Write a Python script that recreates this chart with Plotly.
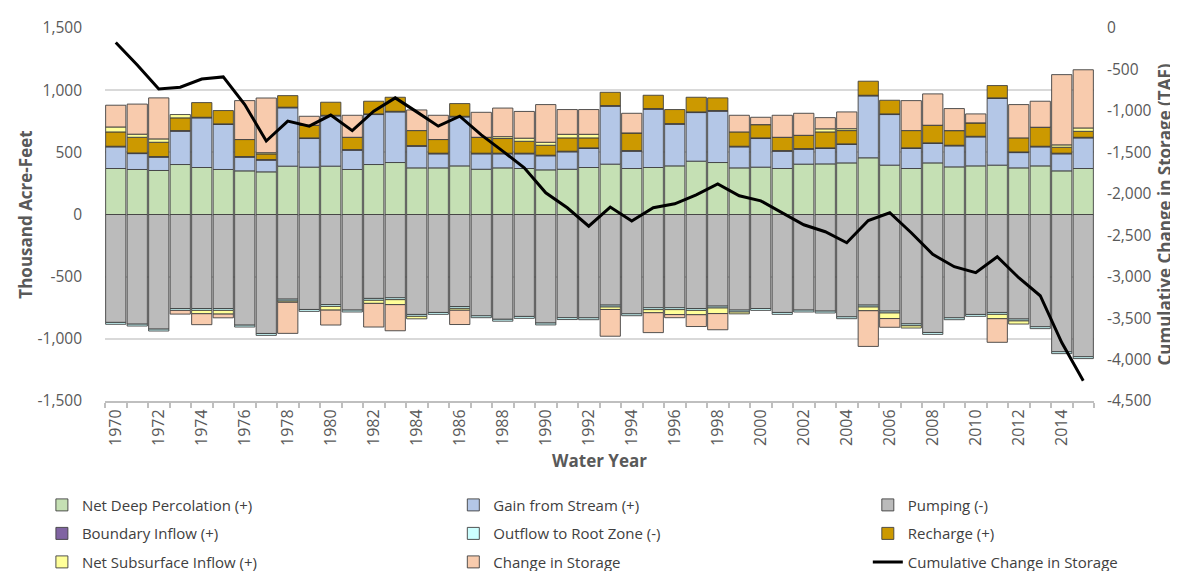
import plotly.graph_objects as go

years = list(range(1970, 2016))

net_deep_percolation = [370, 362, 354, 402, 378, 362, 351, 343, 389, 381, 389, 362, 402, 418, 375, 375,
                        391, 364, 375, 370, 359, 364, 378, 405, 370, 378, 391, 429, 418, 375, 381, 370,
                        405, 407, 415, 456, 397, 370, 415, 383, 391, 397, 375, 391, 351, 370]
gain_from_stream = [174, 128, 107, 268, 399, 362, 110, 94, 469, 230, 404, 155, 402, 407, 174, 113,
                    394, 124, 113, 118, 113, 140, 153, 466, 139, 469, 335, 391, 413, 169, 230, 139,
                    120, 124, 148, 498, 407, 161, 156, 169, 233, 536, 123, 153, 137, 246]
pumping = [-868, -882, -922, -756, -756, -756, -890, -957, -681, -764, -724, -769, -675, -670, -804, -788,
           -740, -815, -843, -820, -873, -830, -831, -729, -799, -750, -750, -756, -737, -769, -756, -788,
           -769, -777, -823, -729, -777, -880, -949, -831, -804, -788, -841, -903, -1104, -1144]
boundary_inflow = [5] * 46
outflow_root_zone = [-15] * 46
recharge = [115, 126, 115, 102, 118, 107, 137, 45, 93, 102, 105, 99, 102, 113, 121, 110,
            102, 128, 118, 96, 80, 107, 80, 107, 142, 107, 113, 118, 102, 115, 107, 107,
            107, 128, 107, 113, 110, 139, 142, 118, 108, 99, 113, 153, 48, 48]
net_subsurface = [40, 25, 27, 27, -27, -30, 0, 10, -10, 0, -30, 0, -25, -40, -20, 0,
                  -15, 0, 15, 25, 24, 29, 29, -20, 0, -25, -40, -35, -45, -15, 0, 0,
                  0, 25, 15, -30, -45, -18, 0, 0, 0, -35, -25, 0, 19, 27]
change_in_storage = [175, 242, 330, -30, -88, -30, 313, 440, -250, 72, -120, 177, -190, -210, 166, 195,
                     -115, 201, 230, 215, 303, 199, 199, -215, 158, -160, -25, -95, -130, 134, 59, 177,
                     177, 90, 135, -287, -70, 241, 252, 177, 72, -190, 268, 209, 565, 468]
cumulative_change = [-175, -446, -735, -715, -615, -590, -924, -1363, -1123, -1184, -1051, -1238, -1004, -843,
                     -1012, -1184, -1064, -1289, -1485, -1687, -1988, -2169, -2391, -2160, -2328, -2169,
                     -2121, -2012, -1880, -2024, -2085, -2229, -2374, -2458, -2591, -2322, -2229, -2470,
                     -2731, -2880, -2952, -2760, -3013, -3230, -3795, -4255]

left_ticks = [1500, 1000, 500, 0, -500, -1000, -1500]
right_ticks = [0, -500, -1000, -1500, -2000, -2500, -3000, -3500, -4000, -4500]
year_labels = list(range(1970, 2015, 2))

font_family = "Open Sans, Noto Sans, sans-serif"
tick_color = "#595959"
outline = dict(color="#404040", width=0.9)

# (name, values, colour, legend column)
bar_series = [
    ("Net Deep Percolation (+)", net_deep_percolation, "#C5E0B4", "legend"),
    ("Gain from Stream (+)", gain_from_stream, "#B4C7E7", "legend2"),
    ("Pumping (-)", pumping, "#BBBBBB", "legend3"),
    ("Boundary Inflow (+)", boundary_inflow, "#8064A2", "legend"),
    ("Outflow to Root Zone (-)", outflow_root_zone, "#CCFFFF", "legend2"),
    ("Recharge (+)", recharge, "#CC9900", "legend3"),
    ("Net Subsurface Inflow (+)", net_subsurface, "#FFFF99", "legend"),
    ("Change in Storage", change_in_storage, "#F8CBAD", "legend2"),
]

fig = go.Figure()
for name, vals, col, leg in bar_series:
    fig.add_trace(go.Bar(x=years, y=vals, name=name, marker=dict(color=col, line=outline),
                         yaxis="y", legend=leg, legendgroup=name))

fig.add_trace(go.Scatter(x=years, y=cumulative_change, name="Cumulative Change in Storage",
                         mode="lines", line=dict(color="black", width=3), yaxis="y2",
                         legend="legend3", legendgroup="cum"))

legend_common = dict(orientation="v", y=-0.235, xanchor="left", yanchor="top",
                     traceorder="grouped", tracegroupgap=6, itemwidth=30,
                     font=dict(size=15, color="#404040"), bgcolor="rgba(0,0,0,0)")

fig.update_layout(
    width=1178, height=571,
    margin=dict(l=97, r=92, t=20, b=178, autoexpand=False),
    paper_bgcolor="white", plot_bgcolor="white",
    barmode="relative", bargap=0.06,
    font=dict(family=font_family, size=15, color=tick_color),
    showlegend=True,
    legend=dict(x=-0.0638, **legend_common),
    legend2=dict(x=0.3522, **legend_common),
    legend3=dict(x=0.7713, **legend_common),
    xaxis=dict(range=[1969.5, 2015.5], tickmode="array", tickvals=year_labels,
               ticktext=[str(y) for y in year_labels], tickangle=-90, ticks="",
               tickfont=dict(size=16, color=tick_color), ticklabelstandoff=0,
               showline=True, linecolor="#BFBFBF", linewidth=2, showgrid=False, zeroline=False,
               minor=dict(tickmode="linear", tick0=1969.5, dtick=1, ticks="outside",
                          ticklen=5, tickcolor="#BFBFBF", tickwidth=1.5),
               title=dict(text="<b>Water Year</b>", font=dict(size=17, color=tick_color), standoff=10)),
    yaxis=dict(range=[-1500, 1500], tickmode="array", tickvals=left_ticks,
               ticktext=[f"{v:,}" for v in left_ticks], showgrid=True, gridcolor="#D9D9D9",
               gridwidth=1.5, zeroline=False, ticks="", ticklabelstandoff=22,
               tickfont=dict(size=15.5, color=tick_color),
               title=dict(text="<b>Thousand Acre-Feet</b>", font=dict(size=17, color=tick_color), standoff=0)),
    yaxis2=dict(range=[-4500, 0], overlaying="y", side="right", tickmode="array",
                tickvals=right_ticks, ticktext=[f"{v:,}" for v in right_ticks], showgrid=False,
                zeroline=False, ticks="", ticklabelstandoff=12, tickfont=dict(size=15.5, color=tick_color),
                title=dict(text="<b>Cumulative Change in Storage (TAF)</b>",
                           font=dict(size=17, color=tick_color), standoff=8)),
)

fig.write_html("out.html")
